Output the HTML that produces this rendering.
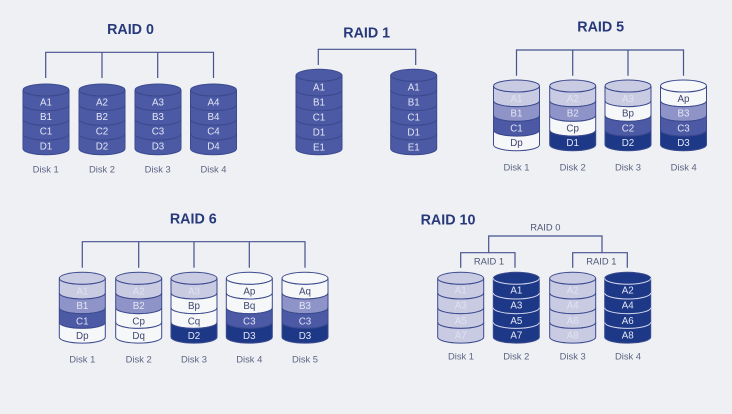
<!DOCTYPE html>
<html><head><meta charset="utf-8">
<style>
html,body{margin:0;padding:0;background:#eef0f3;width:732px;height:414px;overflow:hidden}
svg{display:block;filter:blur(.35px)}
text{font-family:"Liberation Sans",sans-serif;text-anchor:middle}
.t{font-size:14.3px;font-weight:bold;fill:#27397a}
.k{font-size:9.4px;fill:#5d6484}
.s{font-size:9.4px;fill:#4f5678}
.c text{font-size:9.8px;fill:#e3e6f4}
.c text.n{fill:#3f4670}
.c text.p{fill:#e0e2f0}
.c{stroke:#3b4a8e;stroke-width:1}
.c text{stroke:none}
.l{fill:#c9cbe3}.m{fill:#8e93c8}.b{fill:#4c59a5}.d{fill:#1c3887}.e{fill:#f6f7f8}
.x{stroke:#d3d7ee;fill:none}
.wire{fill:none;stroke:#46528f;stroke-width:1.2}
</style></head><body>
<svg width="732" height="414" viewBox="0 0 732 414" xmlns="http://www.w3.org/2000/svg">
<defs>
<path id="r" d="M-23,0A23,6 0 0 0 23,0V14.7A23,6 0 0 1 -23,14.7Z"/>
<path id="a" d="M-23,0A23,6 0 0 0 23,0" fill="none"/>
<ellipse id="o" cx="0" cy="0" rx="23" ry="6"/>
</defs>
<rect width="732" height="414" fill="#eef0f3"/>

<!-- RAID 0 -->
<text class="t" x="130.5" y="34">RAID 0</text>
<path class="wire" d="M45.7,78V52.3H213.5V78M102,52.3V78M157.7,52.3V78"/>
<g class="c" transform="translate(46,90)"><use href="#r" class="b"/><use href="#r" y="14.7" class="b"/><use href="#r" y="29.4" class="b"/><use href="#r" y="44.1" class="b"/><use href="#o" class="b"/><text y="15.3">A1</text><text y="30">B1</text><text y="44.7">C1</text><text y="59.4">D1</text></g>
<g class="c" transform="translate(102,90)"><use href="#r" class="b"/><use href="#r" y="14.7" class="b"/><use href="#r" y="29.4" class="b"/><use href="#r" y="44.1" class="b"/><use href="#o" class="b"/><text y="15.3">A2</text><text y="30">B2</text><text y="44.7">C2</text><text y="59.4">D2</text></g>
<g class="c" transform="translate(158,90)"><use href="#r" class="b"/><use href="#r" y="14.7" class="b"/><use href="#r" y="29.4" class="b"/><use href="#r" y="44.1" class="b"/><use href="#o" class="b"/><text y="15.3">A3</text><text y="30">B3</text><text y="44.7">C3</text><text y="59.4">D3</text></g>
<g class="c" transform="translate(213.5,90)"><use href="#r" class="b"/><use href="#r" y="14.7" class="b"/><use href="#r" y="29.4" class="b"/><use href="#r" y="44.1" class="b"/><use href="#o" class="b"/><text y="15.3">A4</text><text y="30">B4</text><text y="44.7">C4</text><text y="59.4">D4</text></g>
<text class="k" x="45.7" y="172.5">Disk 1</text><text class="k" x="102" y="172.5">Disk 2</text><text class="k" x="157.7" y="172.5">Disk 3</text><text class="k" x="213.5" y="172.5">Disk 4</text>

<!-- RAID 1 -->
<text class="t" x="366.7" y="37.7">RAID 1</text>
<path class="wire" d="M318.3,65V49.3H415.7V65"/>
<g class="c" transform="translate(319,75.3)"><use href="#r" class="b"/><use href="#r" y="14.7" class="b"/><use href="#r" y="29.4" class="b"/><use href="#r" y="44.1" class="b"/><use href="#r" y="58.8" class="b"/><use href="#o" class="b"/><text y="15">A1</text><text y="30">B1</text><text y="45">C1</text><text y="60">D1</text><text y="75">E1</text></g>
<g class="c" transform="translate(413.7,75.3)"><use href="#r" class="b"/><use href="#r" y="14.7" class="b"/><use href="#r" y="29.4" class="b"/><use href="#r" y="44.1" class="b"/><use href="#r" y="58.8" class="b"/><use href="#o" class="b"/><text y="15">A1</text><text y="30">B1</text><text y="45">C1</text><text y="60">D1</text><text y="75">E1</text></g>

<!-- RAID 5 -->
<text class="t" x="600.7" y="31.7">RAID 5</text>
<path class="wire" d="M516.5,75.7V50H683.5V75.7M572.7,50V75.7M628,50V75.7"/>
<g class="c" transform="translate(516.5,86)"><use href="#r" class="l"/><use href="#r" y="14.7" class="m"/><use href="#r" y="29.4" class="b"/><use href="#r" y="44.1" class="e"/><use href="#o" class="l"/><text class="p" y="15.8">A1</text><text y="30.5">B1</text><text y="45.5">C1</text><text class="n" y="60">Dp</text></g>
<g class="c" transform="translate(572.7,86)"><use href="#r" class="l"/><use href="#r" y="14.7" class="m"/><use href="#r" y="29.4" class="e"/><use href="#r" y="44.1" class="d"/><use href="#o" class="l"/><text class="p" y="15.8">A2</text><text y="30.5">B2</text><text class="n" y="45.5">Cp</text><text y="60">D1</text></g>
<g class="c" transform="translate(628,86)"><use href="#r" class="l"/><use href="#r" y="14.7" class="e"/><use href="#r" y="29.4" class="b"/><use href="#r" y="44.1" class="d"/><use href="#o" class="l"/><text class="p" y="15.8">A3</text><text class="n" y="30.5">Bp</text><text y="45.5">C2</text><text y="60">D2</text></g>
<g class="c" transform="translate(683.5,86)"><use href="#r" class="e"/><use href="#r" y="14.7" class="m"/><use href="#r" y="29.4" class="b"/><use href="#r" y="44.1" class="d"/><use href="#o" class="e"/><text class="n" y="15.8">Ap</text><text y="30.5">B3</text><text y="45.5">C3</text><text y="60">D3</text></g>
<text class="k" x="516.5" y="170.3">Disk 1</text><text class="k" x="572.7" y="170.3">Disk 2</text><text class="k" x="628" y="170.3">Disk 3</text><text class="k" x="683.7" y="170.3">Disk 4</text>

<!-- RAID 6 -->
<text class="t" x="193.3" y="223.3">RAID 6</text>
<path class="wire" d="M82.3,267.7V241.7H305V267.7M138.7,241.7V267.7M194,241.7V267.7M249.3,241.7V267.7"/>
<g class="c" transform="translate(82.3,278.3)"><use href="#r" class="l"/><use href="#r" y="14.7" class="m"/><use href="#r" y="29.4" class="b"/><use href="#r" y="44.1" class="e"/><use href="#o" class="l"/><text class="p" y="16">A1</text><text y="30.8">B1</text><text y="46.2">C1</text><text class="n" y="60.8">Dp</text></g>
<g class="c" transform="translate(138.7,278.3)"><use href="#r" class="l"/><use href="#r" y="14.7" class="m"/><use href="#r" y="29.4" class="e"/><use href="#r" y="44.1" class="e"/><use href="#o" class="l"/><text class="p" y="16">A2</text><text y="30.8">B2</text><text class="n" y="46.2">Cp</text><text class="n" y="60.8">Dq</text></g>
<g class="c" transform="translate(194,278.3)"><use href="#r" class="l"/><use href="#r" y="14.7" class="e"/><use href="#r" y="29.4" class="e"/><use href="#r" y="44.1" class="d"/><use href="#o" class="l"/><text class="p" y="16">A3</text><text class="n" y="30.8">Bp</text><text class="n" y="46.2">Cq</text><text y="60.8">D2</text></g>
<g class="c" transform="translate(249.3,278.3)"><use href="#r" class="e"/><use href="#r" y="14.7" class="e"/><use href="#r" y="29.4" class="b"/><use href="#r" y="44.1" class="d"/><use href="#o" class="e"/><text class="n" y="16">Ap</text><text class="n" y="30.8">Bq</text><text y="46.2">C3</text><text y="60.8">D3</text></g>
<g class="c" transform="translate(305,278.3)"><use href="#r" class="e"/><use href="#r" y="14.7" class="m"/><use href="#r" y="29.4" class="b"/><use href="#r" y="44.1" class="d"/><use href="#o" class="e"/><text class="n" y="16">Aq</text><text y="30.8">B3</text><text y="46.2">C3</text><text y="60.8">D3</text></g>
<text class="k" x="82.3" y="362.6">Disk 1</text><text class="k" x="138.7" y="362.6">Disk 2</text><text class="k" x="194" y="362.6">Disk 3</text><text class="k" x="249.3" y="362.6">Disk 4</text><text class="k" x="305" y="362.6">Disk 5</text>

<!-- RAID 10 -->
<text class="t" x="448" y="224.7">RAID 10</text>
<text class="s" x="545.3" y="230.5">RAID 0</text>
<path class="wire" d="M488.7,252.7V236H602V252.7"/>
<path class="wire" d="M460.7,267.7V252.7H515V267.7"/>
<path class="wire" d="M572.7,267.7V252.7H627.3V267.7"/>
<text class="s" x="489" y="264.5">RAID 1</text>
<text class="s" x="601.3" y="264.5">RAID 1</text>
<g class="c" transform="translate(460.7,278.3)"><use href="#r" class="l"/><use href="#r" y="14.7" class="l"/><use href="#r" y="29.4" class="l"/><use href="#r" y="44.1" class="l"/><use href="#o" class="l"/><text class="p" y="15">A1</text><text class="p" y="30.3">A3</text><text class="p" y="45.6">A5</text><text class="p" y="60.3">A7</text></g>
<g class="c" transform="translate(516.3,278.3)"><use href="#r" class="d"/><use href="#r" y="14.7" class="d"/><use href="#r" y="29.4" class="d"/><use href="#r" y="44.1" class="d"/><use href="#o" class="d"/><use href="#a" class="x"/><use href="#a" y="14.7" class="x"/><use href="#a" y="29.4" class="x"/><use href="#a" y="44.1" class="x"/><text y="15">A1</text><text y="30.3">A3</text><text y="45.6">A5</text><text y="60.3">A7</text></g>
<g class="c" transform="translate(572.7,278.3)"><use href="#r" class="l"/><use href="#r" y="14.7" class="l"/><use href="#r" y="29.4" class="l"/><use href="#r" y="44.1" class="l"/><use href="#o" class="l"/><text class="p" y="15">A2</text><text class="p" y="30.3">A4</text><text class="p" y="45.6">A6</text><text class="p" y="60.3">A8</text></g>
<g class="c" transform="translate(627.7,278.3)"><use href="#r" class="d"/><use href="#r" y="14.7" class="d"/><use href="#r" y="29.4" class="d"/><use href="#r" y="44.1" class="d"/><use href="#o" class="d"/><use href="#a" class="x"/><use href="#a" y="14.7" class="x"/><use href="#a" y="29.4" class="x"/><use href="#a" y="44.1" class="x"/><text y="15">A2</text><text y="30.3">A4</text><text y="45.6">A6</text><text y="60.3">A8</text></g>
<text class="k" x="461" y="359.6">Disk 1</text><text class="k" x="516.3" y="359.6">Disk 2</text><text class="k" x="572.7" y="359.6">Disk 3</text><text class="k" x="628" y="359.6">Disk 4</text>
</svg>
</body></html>
